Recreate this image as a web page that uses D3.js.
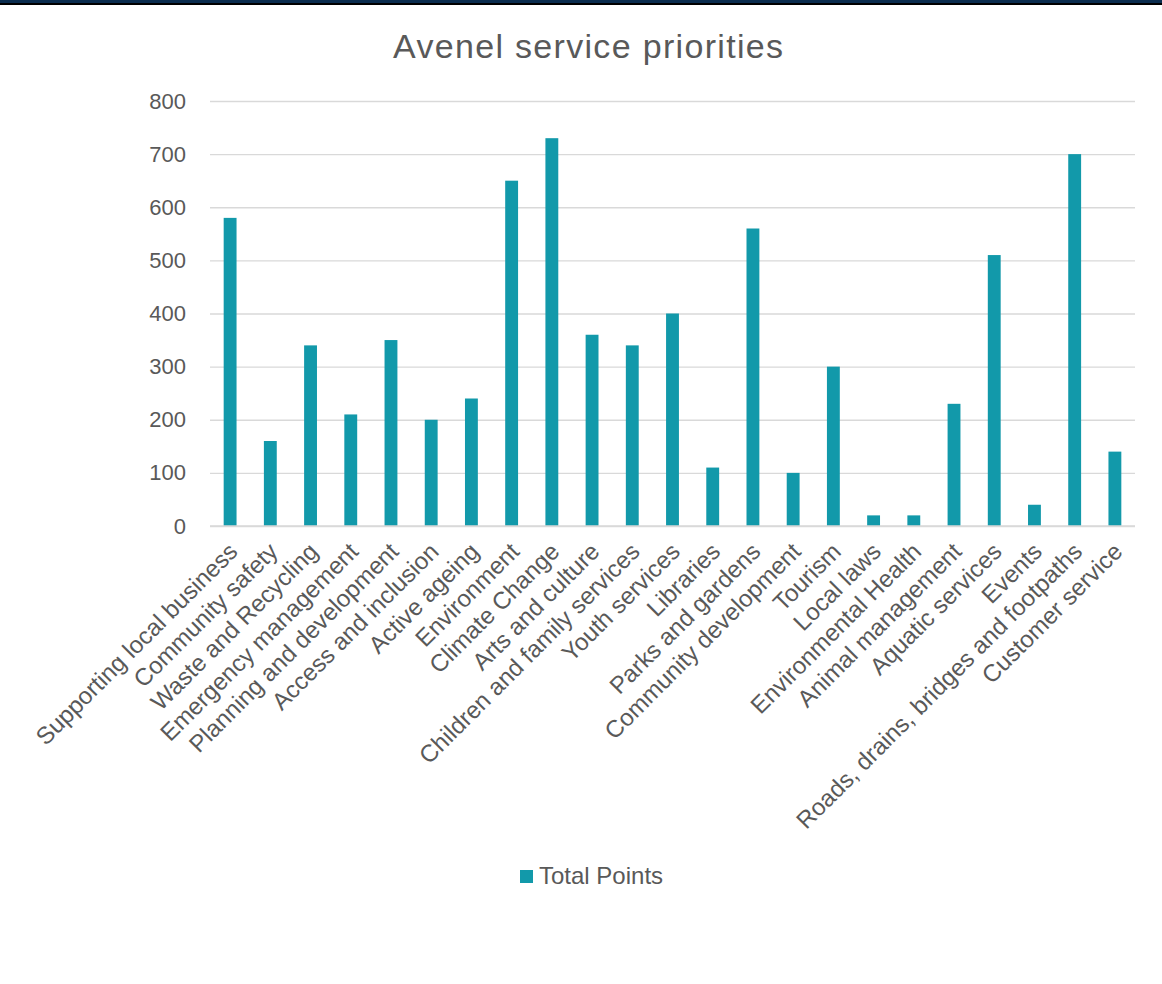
<!DOCTYPE html>
<html>
<head>
<meta charset="utf-8">
<script src="https://cdn.jsdelivr.net/npm/d3@7"></script>
<style>
  html, body { margin: 0; padding: 0; background: #fff; }
  svg { display: block; font-family: "Liberation Sans", Arial, sans-serif; }
</style>
</head>
<body>
<svg id="chart" width="1162" height="984"></svg>
<script>
const categories = [
  "Supporting local business", "Community safety", "Waste and Recycling",
  "Emergency management", "Planning and development", "Access and inclusion",
  "Active ageing", "Environment", "Climate Change", "Arts and culture",
  "Children and family services", "Youth services", "Libraries",
  "Parks and gardens", "Community development", "Tourism", "Local laws",
  "Environmental Health", "Animal management", "Aquatic services", "Events",
  "Roads, drains, bridges and footpaths", "Customer service"
];
const totalPoints = [580, 160, 340, 210, 350, 200, 240, 650, 730, 360, 340, 400, 110, 560, 100, 300, 20, 20, 230, 510, 40, 700, 140];
const yTicks = [0, 100, 200, 300, 400, 500, 600, 700, 800];
const seriesName = "Total Points";
const chartTitle = "Avenel service priorities";

const svg = d3.select("#chart");
const W = 1162, H = 984;
const plotLeft = 210, plotRight = 1135, plotTop = 101, plotBottom = 526;
const textColor = "#595959";
const barColor = "#1299aa";

// top band
svg.append("rect").attr("x", 0).attr("y", 0).attr("width", W).attr("height", 3).attr("fill", "#0b2d4f");
svg.append("rect").attr("x", 0).attr("y", 3).attr("width", W).attr("height", 2).attr("fill", "#000");

const x = d3.scaleBand().domain(categories).range([plotLeft, plotRight]).paddingInner(0.68).paddingOuter(0.34);
const y = d3.scaleLinear().domain([0, 800]).range([plotBottom, plotTop]);

// gridlines
const yAxis = d3.axisLeft(y).tickValues(yTicks).tickSize(-(plotRight - plotLeft)).tickPadding(24);
const gy = svg.append("g").attr("transform", `translate(${plotLeft},0)`).call(yAxis);
gy.select(".domain").remove();
gy.selectAll(".tick line").attr("stroke", "#d9d9d9").attr("stroke-width", 1.3);
gy.selectAll(".tick text").attr("fill", textColor).attr("font-size", "22px").attr("font-family", "Liberation Sans, Arial, sans-serif");

// bars
svg.append("g").selectAll("rect").data(totalPoints).join("rect")
  .attr("x", (d, i) => x(categories[i]))
  .attr("width", x.bandwidth())
  .attr("y", d => y(d))
  .attr("height", d => y(0) - y(d))
  .attr("fill", barColor);

// x axis
const xAxis = d3.axisBottom(x).tickSize(0).tickPadding(0);
const gx = svg.append("g").attr("transform", `translate(0,${plotBottom})`).call(xAxis);
gx.select(".domain").attr("stroke", "#d9d9d9").attr("stroke-width", 1.3).attr("d", `M${plotLeft},0H${plotRight}`);
gx.selectAll(".tick text")
  .attr("fill", textColor)
  .attr("font-size", "24px")
  .attr("font-family", "Liberation Sans, Arial, sans-serif")
  .attr("text-anchor", "end")
  .attr("dy", "0")
  .attr("transform", "translate(9,27) rotate(-45)");

// title
svg.append("text").attr("x", 588).attr("y", 58).attr("text-anchor", "middle")
  .attr("fill", textColor).attr("font-size", "34px")
  .attr("textLength", 390).attr("lengthAdjust", "spacing").text(chartTitle);

// legend
const lg = svg.append("g").attr("transform", "translate(520,870)");
lg.append("rect").attr("x", 0).attr("y", 0).attr("width", 13).attr("height", 13).attr("fill", barColor);
lg.append("text").attr("x", 19).attr("y", 14).attr("fill", textColor).attr("font-size", "24px").text(seriesName);
</script>
</body>
</html>
